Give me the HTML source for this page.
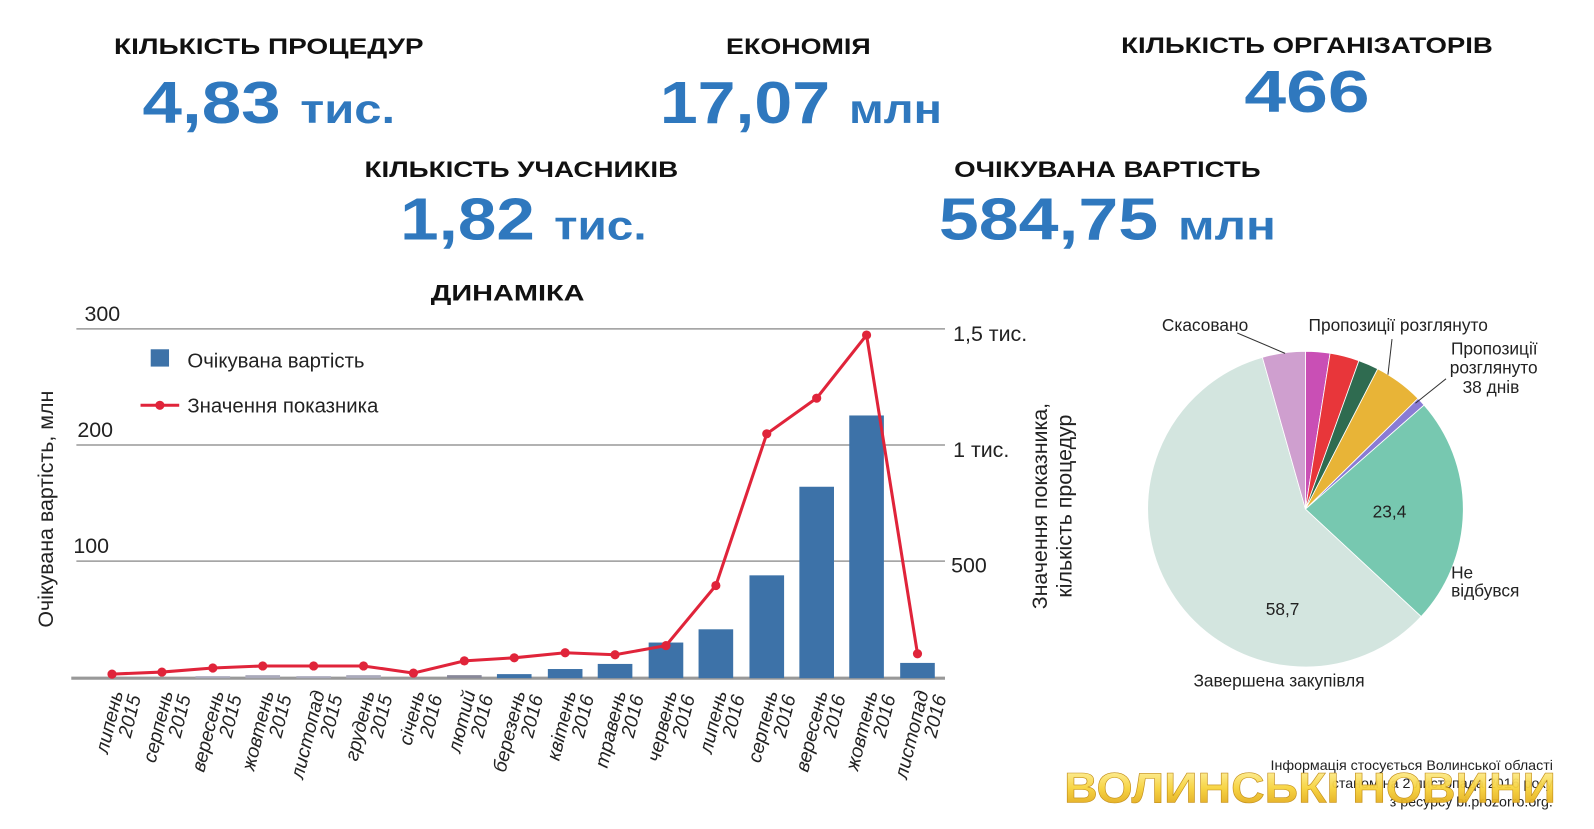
<!DOCTYPE html>
<html><head><meta charset="utf-8"><style>
html,body{margin:0;padding:0;background:#fff;}
svg{display:block;}
text{font-family:"Liberation Sans",sans-serif;}
</style></head><body>
<svg width="1594" height="829" viewBox="0 0 1594 829" xmlns="http://www.w3.org/2000/svg">
<defs>
<linearGradient id="gy" x1="0" y1="0" x2="0" y2="1">
<stop offset="0" stop-color="#fff6b0"/><stop offset="0.5" stop-color="#f7d23a"/><stop offset="1" stop-color="#d99a10"/>
</linearGradient>
</defs>
<rect width="1594" height="829" fill="#fff"/>
<g transform="scale(1.0183)">
<g font-weight="bold" fill="#111" font-size="22">
<text x="112" y="53" textLength="304" lengthAdjust="spacingAndGlyphs">КІЛЬКІСТЬ ПРОЦЕДУР</text>
<text x="713" y="53" textLength="142" lengthAdjust="spacingAndGlyphs">ЕКОНОМІЯ</text>
<text x="1101" y="52" textLength="365" lengthAdjust="spacingAndGlyphs">КІЛЬКІСТЬ ОРГАНІЗАТОРІВ</text>
<text x="358" y="174" textLength="308" lengthAdjust="spacingAndGlyphs">КІЛЬКІСТЬ УЧАСНИКІВ</text>
<text x="937" y="174" textLength="301" lengthAdjust="spacingAndGlyphs">ОЧІКУВАНА ВАРТІСТЬ</text>
<text x="423" y="295" textLength="151" lengthAdjust="spacingAndGlyphs">ДИНАМІКА</text>
</g>
<g font-weight="bold" fill="#2f78be">
<text x="140" y="121" font-size="58" textLength="248" lengthAdjust="spacingAndGlyphs">4,83 <tspan font-size="40">тис.</tspan></text>
<text x="648" y="121" font-size="58" textLength="277" lengthAdjust="spacingAndGlyphs">17,07 <tspan font-size="40">млн</tspan></text>
<text x="1222" y="110" font-size="58" textLength="123" lengthAdjust="spacingAndGlyphs">466</text>
<text x="393" y="235" font-size="58" textLength="242" lengthAdjust="spacingAndGlyphs">1,82 <tspan font-size="40">тис.</tspan></text>
<text x="922" y="235" font-size="58" textLength="331" lengthAdjust="spacingAndGlyphs">584,75 <tspan font-size="40">млн</tspan></text>
</g>
<g stroke="#999" stroke-width="1.5">
<line x1="75" y1="323" x2="928" y2="323"/>
<line x1="75" y1="437" x2="928" y2="437"/>
<line x1="75" y1="551" x2="928" y2="551"/>
</g>
<line x1="70" y1="666" x2="928" y2="666" stroke="#999" stroke-width="3"/>
<g font-size="21" fill="#222">
<text x="83" y="315">300</text>
<text x="76" y="429">200</text>
<text x="72" y="543">100</text>
<text x="936" y="335">1,5 тис.</text>
<text x="936" y="449">1 тис.</text>
<text x="934" y="562">500</text>
</g>
<text transform="translate(52,500) rotate(-90)" text-anchor="middle" font-size="21" fill="#222">Очікувана вартість, млн</text>
<text transform="translate(1028,497) rotate(-90)" text-anchor="middle" font-size="21" fill="#222">Значення показника,</text>
<text transform="translate(1052,497) rotate(-90)" text-anchor="middle" font-size="21" fill="#222">кількість процедур</text>
<g fill="#3d72a8">
<rect x="192" y="664" width="34" height="2" fill="#aab"/>
<rect x="241" y="663" width="34" height="3" fill="#aab"/>
<rect x="291" y="664" width="34" height="2" fill="#aab"/>
<rect x="340" y="663" width="34" height="3" fill="#aab"/>
<rect x="439" y="663" width="34" height="3" fill="#889"/>
<rect x="488" y="662" width="34" height="4"/>
<rect x="538" y="657" width="34" height="9"/>
<rect x="587" y="652" width="34" height="14"/>
<rect x="637" y="631" width="34" height="35"/>
<rect x="686" y="618" width="34" height="48"/>
<rect x="736" y="565" width="34" height="101"/>
<rect x="785" y="478" width="34" height="188"/>
<rect x="834" y="408" width="34" height="258"/>
<rect x="884" y="651" width="34" height="15"/>
</g>
<polyline fill="none" stroke="#e0243a" stroke-width="3" points="110,662 159,660 209,656 258,654 308,654 357,654 406,661 456,649 505,646 555,641 604,643 654,634 703,575 753,426 802,391 851,329 901,642"/>
<g fill="#e0243a">
<circle cx="110" cy="662" r="4.5"/><circle cx="159" cy="660" r="4.5"/><circle cx="209" cy="656" r="4.5"/><circle cx="258" cy="654" r="4.5"/><circle cx="308" cy="654" r="4.5"/><circle cx="357" cy="654" r="4.5"/><circle cx="406" cy="661" r="4.5"/><circle cx="456" cy="649" r="4.5"/><circle cx="505" cy="646" r="4.5"/><circle cx="555" cy="641" r="4.5"/><circle cx="604" cy="643" r="4.5"/><circle cx="654" cy="634" r="4.5"/><circle cx="703" cy="575" r="4.5"/><circle cx="753" cy="426" r="4.5"/><circle cx="802" cy="391" r="4.5"/><circle cx="851" cy="329" r="4.5"/><circle cx="901" cy="642" r="4.5"/>
</g>
<rect x="148" y="343" width="18" height="17" fill="#3d72a8"/>
<text x="184" y="361" font-size="20" fill="#222">Очікувана вартість</text>
<line x1="138" y1="398" x2="176" y2="398" stroke="#e0243a" stroke-width="3"/>
<circle cx="157" cy="398" r="4.5" fill="#e0243a"/>
<text x="184" y="405" font-size="20" fill="#222">Значення показника</text>
<g font-size="19" font-style="italic" fill="#222" text-anchor="end">
<g transform="translate(121,680) rotate(-76)"><text x="0" y="0">липень</text><text x="0" y="18">2015</text></g>
<g transform="translate(170,680) rotate(-76)"><text x="0" y="0">серпень</text><text x="0" y="18">2015</text></g>
<g transform="translate(220,680) rotate(-76)"><text x="0" y="0">вересень</text><text x="0" y="18">2015</text></g>
<g transform="translate(269,680) rotate(-76)"><text x="0" y="0">жовтень</text><text x="0" y="18">2015</text></g>
<g transform="translate(319,680) rotate(-76)"><text x="0" y="0">листопад</text><text x="0" y="18">2015</text></g>
<g transform="translate(368,680) rotate(-76)"><text x="0" y="0">грудень</text><text x="0" y="18">2015</text></g>
<g transform="translate(417,680) rotate(-76)"><text x="0" y="0">січень</text><text x="0" y="18">2016</text></g>
<g transform="translate(467,680) rotate(-76)"><text x="0" y="0">лютий</text><text x="0" y="18">2016</text></g>
<g transform="translate(516,680) rotate(-76)"><text x="0" y="0">березень</text><text x="0" y="18">2016</text></g>
<g transform="translate(566,680) rotate(-76)"><text x="0" y="0">квітень</text><text x="0" y="18">2016</text></g>
<g transform="translate(615,680) rotate(-76)"><text x="0" y="0">травень</text><text x="0" y="18">2016</text></g>
<g transform="translate(665,680) rotate(-76)"><text x="0" y="0">червень</text><text x="0" y="18">2016</text></g>
<g transform="translate(714,680) rotate(-76)"><text x="0" y="0">липень</text><text x="0" y="18">2016</text></g>
<g transform="translate(764,680) rotate(-76)"><text x="0" y="0">серпень</text><text x="0" y="18">2016</text></g>
<g transform="translate(813,680) rotate(-76)"><text x="0" y="0">вересень</text><text x="0" y="18">2016</text></g>
<g transform="translate(862,680) rotate(-76)"><text x="0" y="0">жовтень</text><text x="0" y="18">2016</text></g>
<g transform="translate(912,680) rotate(-76)"><text x="0" y="0">листопад</text><text x="0" y="18">2016</text></g>
</g>
<g transform="translate(1282,500)" stroke="#fff" stroke-width="0.8">
<path d="M0,0 L0,-155 A155,155 0 0 1 24.2,-153.1 Z" fill="#c94fb5"/>
<path d="M0,0 L24.2,-153.1 A155,155 0 0 1 52.5,-145.8 Z" fill="#e8363a"/>
<path d="M0,0 L52.5,-145.8 A155,155 0 0 1 71.0,-137.8 Z" fill="#2f6b50"/>
<path d="M0,0 L71.0,-137.8 A155,155 0 0 1 110.5,-108.7 Z" fill="#e8b437"/>
<path d="M0,0 L110.5,-108.7 A155,155 0 0 1 116.5,-102.2 Z" fill="#8a7bd4"/>
<path d="M0,0 L116.5,-102.2 A155,155 0 0 1 113.6,105.5 Z" fill="#77c8b0"/>
<path d="M0,0 L113.6,105.5 A155,155 0 1 1 -42.3,-149.1 Z" fill="#d3e5df"/>
<path d="M0,0 L-42.3,-149.1 A155,155 0 0 1 0,-155 Z" fill="#cf9fcf"/>
</g>
<g stroke="#333" stroke-width="1">
<line x1="1215" y1="327" x2="1262" y2="347"/>
<line x1="1367" y1="333" x2="1363" y2="368"/>
<line x1="1420" y1="372" x2="1390" y2="396"/>
</g>
<g font-size="17" fill="#222">
<text x="1141" y="325">Скасовано</text>
<text x="1285" y="325">Пропозиції розглянуто</text>
<text x="1510" y="348" text-anchor="end">Пропозиції</text>
<text x="1510" y="367" text-anchor="end">розглянуто</text>
<text x="1492" y="386" text-anchor="end">38 днів</text>
<text x="1348" y="508">23,4</text>
<text x="1243" y="604">58,7</text>
<text x="1425" y="568">Не</text>
<text x="1425" y="586">відбувся</text>
<text x="1172" y="674">Завершена закупівля</text>
</g>
<g font-size="14" fill="#222" text-anchor="end">
<text x="1525" y="756">Інформація стосується Волинської області</text>
<text x="1525" y="774">станом на 2 листопада 2016 року</text>
<text x="1525" y="792">з ресурсу bi.prozorro.org.</text>
</g>
<text x="1045" y="788" font-size="42" font-weight="bold" fill="url(#gy)" stroke="#c08a10" stroke-width="0.6" textLength="483" lengthAdjust="spacingAndGlyphs" opacity="0.95">ВОЛИНСЬКІ НОВИНИ</text>
</g>
</svg>
</body></html>
